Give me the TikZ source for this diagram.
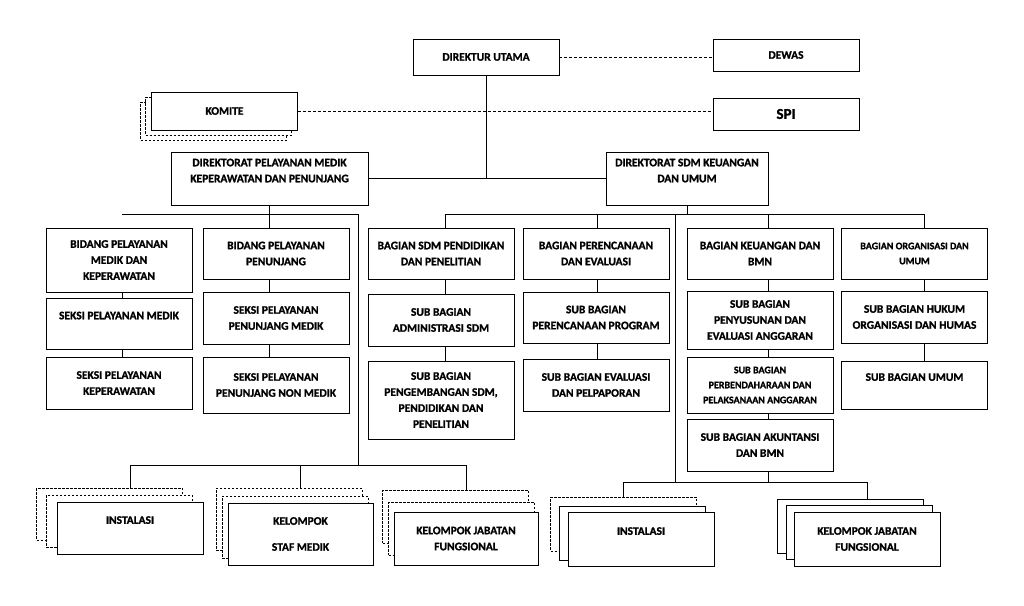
\documentclass[tikz,border=0pt]{standalone}
\usepackage{fontspec}
\setmainfont{Carlito}[BoldFont={Carlito Bold}, BoldFeatures={FakeBold=1.2}]

\begin{document}
\begin{tikzpicture}[x=1pt, y=-1pt,
            box/.style={draw, fill=white, line width=0.9pt, align=center, inner sep=0pt,
              minimum width=146pt, minimum height=52pt, font=\fontsize{11.5}{16}\selectfont\bfseries},
            backbox/.style={box, dash pattern=on 2.5pt off 1.5pt},
            small/.style={font=\fontsize{10}{15}\selectfont\bfseries},
            link/.style={line width=0.9pt},
            dotlink/.style={line width=0.7pt, dash pattern=on 3pt off 2pt}]

            \useasboundingbox (0,0) rectangle (1024,605);

            \node[box, minimum height=36pt] (du) at (486,57) {DIREKTUR UTAMA};
            \node[box, minimum height=32pt] (dewas) at (786,55) {DEWAS};
            \node[box, minimum height=32pt, font=\fontsize{15}{18}\selectfont\bfseries] (spi) at (786,114) {SPI};

            \node[backbox, minimum height=38pt] (komc) at (213.5,121) {};
            \node[backbox, minimum height=38pt] (komb) at (218.5,116) {};
            \node[box, minimum height=38pt] (komite) at (224.5,111) {KOMITE};

            \draw[dotlink] (du.east) -- (dewas.west |- du.east);
            \draw[dotlink] (komite.east) -- (spi.west |- komite.east);

            \node[box, minimum width=197pt, minimum height=53pt] (dpm) at (269.5,178.5) {DIREKTORAT PELAYANAN MEDIK\\KEPERAWATAN DAN PENUNJANG\\~};
            \node[box, minimum width=162pt, minimum height=53pt] (dsdm) at (687,178.5) {DIREKTORAT SDM KEUANGAN\\DAN UMUM\\~};

            \draw[link] (du.south) -- (du.south |- dpm.east);
            \draw[link] (dpm.east) -- (dsdm.west);

            % pelayanan medik
            \node[box, minimum height=64pt] (bpmk) at (119,260) {BIDANG PELAYANAN\\MEDIK DAN\\KEPERAWATAN};
            \node[box, minimum height=51pt] (spm) at (119,323.5) {SEKSI PELAYANAN MEDIK\\~};
            \node[box] (spk) at (119,383) {SEKSI PELAYANAN\\KEPERAWATAN};
            \node[box, minimum height=51pt] (bpp) at (276,253.5) {BIDANG PELAYANAN\\PENUNJANG};
            \node[box] (sppm) at (276,318) {SEKSI PELAYANAN\\PENUNJANG MEDIK};
            \node[box, minimum height=56pt] (sppnm) at (276,385) {SEKSI PELAYANAN\\PENUNJANG NON MEDIK};

            \coordinate (lbus) at (122,214);
            \coordinate (rbus) at (358,214);
            \coordinate (lbot) at (358,465);
            \draw[link] (lbus) -- (rbus) -- (lbot);
            \draw[link] (dpm.south) -- (dpm.south |- lbus);
            \draw[link] (dpm.south |- lbus) -- (dpm.south |- bpp.north);
            \draw[link] (dpm.south |- bpp.south) -- (dpm.south |- sppm.north);
            \draw[link] (dpm.south |- sppm.south) -- (dpm.south |- sppnm.north);
            \draw[link] (lbus |- bpmk.south) -- (lbus |- spm.north);
            \draw[link] (lbus |- spm.south) -- (lbus |- spk.north);

            \node[backbox] (inst1c) at (109.5,514) {};
            \node[backbox] (inst1b) at (119,521) {};
            \node[box] (inst1) at (130,528) {INSTALASI\\~};
            \node[backbox, minimum height=62pt] (ksmc) at (289,519) {};
            \node[backbox, minimum height=62pt] (ksmb) at (295,527) {};
            \node[box, minimum width=145pt, minimum height=62pt] (ksm) at (300.5,534) {KELOMPOK\\[10pt]STAF MEDIK};
            \node[backbox, minimum height=53pt] (kjf1c) at (455.5,516.5) {};
            \node[backbox, minimum height=53pt] (kjf1b) at (461.5,528.5) {};
            \node[box, minimum width=144pt, minimum height=53pt] (kjf1) at (466,538.5) {KELOMPOK JABATAN\\FUNGSIONAL};

            \draw[link] (lbot) -| (inst1.north |- inst1c.north);
            \draw[link] (lbot) -| (ksm.north |- ksmc.north);
            \draw[link] (lbot) -| (kjf1.north |- kjf1c.north);

            % sdm keuangan dan umum
            \node[box, minimum height=51pt] (bsdm) at (441,253.5) {BAGIAN SDM PENDIDIKAN\\DAN PENELITIAN};
            \node[box] (sbas) at (441,320) {SUB BAGIAN\\ADMINISTRASI SDM};
            \node[box, minimum height=78pt] (sbps) at (441,400) {SUB BAGIAN\\PENGEMBANGAN SDM,\\PENDIDIKAN DAN\\PENELITIAN};
            \node[box, minimum height=51pt] (bpe) at (596,253.5) {BAGIAN PERENCANAAN\\DAN EVALUASI};
            \node[box, minimum height=51pt] (sbpp) at (596,317.5) {SUB BAGIAN\\PERENCANAAN PROGRAM};
            \node[box] (sbep) at (596,385) {SUB BAGIAN EVALUASI\\DAN PELPAPORAN};
            \node[box, minimum height=51pt] (bku) at (760,253.5) {BAGIAN KEUANGAN DAN\\BMN};
            \node[box, minimum height=58pt] (sbpea) at (760,320) {SUB BAGIAN\\PENYUSUNAN DAN\\EVALUASI ANGGARAN};
            \node[box, small, minimum height=56pt] (sbppa) at (760,385) {SUB BAGIAN\\PERBENDAHARAAN DAN\\PELAKSANAAN ANGGARAN};
            \node[box] (sbab) at (760,445) {SUB BAGIAN AKUNTANSI\\DAN BMN};
            \node[box, small, minimum height=51pt] (bou) at (914.5,253.5) {BAGIAN ORGANISASI DAN\\UMUM};
            \node[box] (sbhoh) at (914.5,317) {SUB BAGIAN HUKUM\\ORGANISASI DAN HUMAS};
            \node[box, minimum height=48pt] (sbu) at (914.5,385) {SUB BAGIAN UMUM\\~};

            \coordinate (k3) at (445,214);
            \coordinate (k4) at (597,214);
            \coordinate (k5) at (768,214);
            \coordinate (k6) at (924,214);
            \coordinate (kmid) at (675,214);
            \coordinate (rbot) at (675,482);
            \draw[link] (k3) -- (k6);
            \draw[link] (dsdm.south) -- (dsdm.south |- k3);
            \draw[link] (kmid) -- (rbot);
            \draw[link] (k3) -- (k3 |- bsdm.north);
            \draw[link] (k3 |- bsdm.south) -- (k3 |- sbas.north);
            \draw[link] (k3 |- sbas.south) -- (k3 |- sbps.north);
            \draw[link] (k4) -- (k4 |- bpe.north);
            \draw[link] (k4 |- bpe.south) -- (k4 |- sbpp.north);
            \draw[link] (k4 |- sbpp.south) -- (k4 |- sbep.north);
            \draw[link] (k5) -- (k5 |- bku.north);
            \draw[link] (k5 |- bku.south) -- (k5 |- sbpea.north);
            \draw[link] (k5 |- sbpea.south) -- (k5 |- sbppa.north);
            \draw[link] (k5 |- sbppa.south) -- (k5 |- sbab.north);
            \draw[link] (k5 |- sbab.south) -- (k5 |- rbot);
            \draw[link] (k6) -- (k6 |- bou.north);
            \draw[link] (k6 |- bou.south) -- (k6 |- sbhoh.north);
            \draw[link] (k6 |- sbhoh.south) -- (k6 |- sbu.north);

            \node[backbox, minimum height=54pt] (inst2c) at (623.5,524) {};
            \node[box, minimum height=54pt] (inst2b) at (632,533) {};
            \node[box, minimum height=54pt] (inst2) at (641,539) {INSTALASI\\~};
            \node[box, minimum height=54pt] (kjf2c) at (850.5,526) {};
            \node[box, minimum height=54pt] (kjf2b) at (859,532) {};
            \node[box, minimum height=54pt] (kjf2) at (867,539) {KELOMPOK JABATAN\\FUNGSIONAL};

            \draw[link] (rbot) -| (inst2c.north);
            \draw[link] (rbot) -| (kjf2.north |- kjf2c.north);
\end{tikzpicture}
\end{document}
